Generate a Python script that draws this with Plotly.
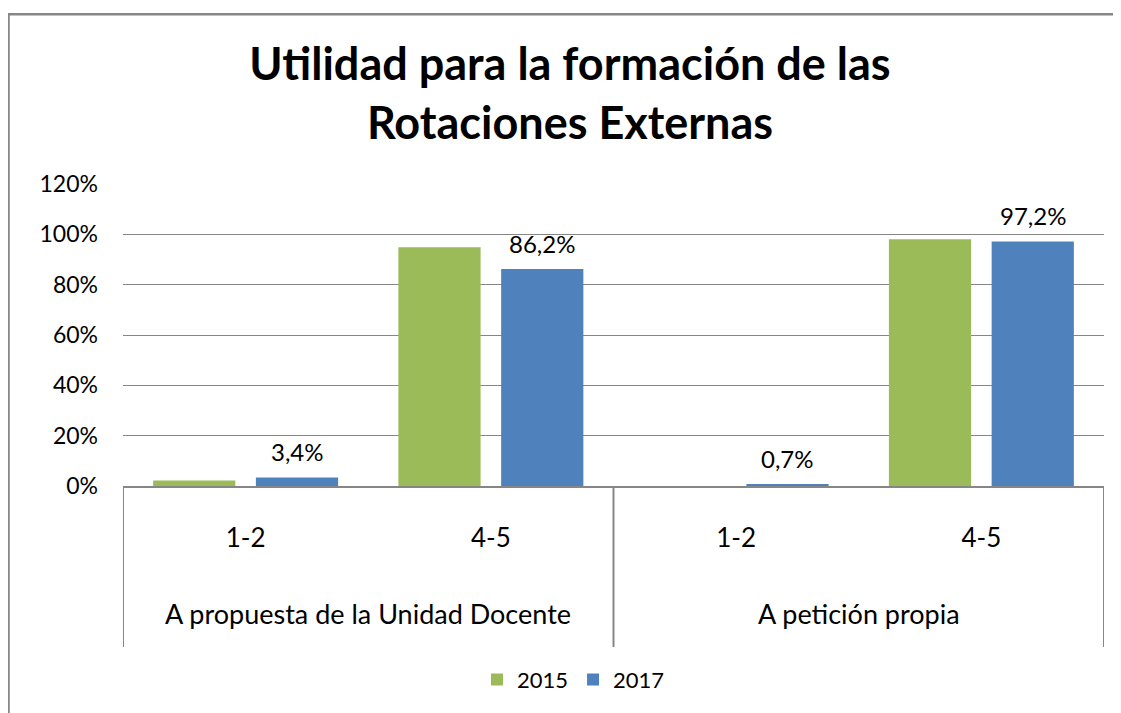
import plotly.graph_objects as go

# ---- data ----
groups = ["A propuesta de la Unidad Docente", "A propuesta de la Unidad Docente",
          "A petición propia", "A petición propia"]
subcats = ["1-2", "4-5", "1-2", "4-5"]
series_names = ["2015", "2017"]
values_2015 = [2.2, 94.9, 0.0, 98.0]
values_2017 = [3.4, 86.2, 0.7, 97.2]
y_ticks = [0, 20, 40, 60, 80, 100, 120]

# ---- style ----
OFF = 8  # page body margin of the browser
W, H = 1121 - OFF, 713 - OFF
ML, MT = 123 - OFF, 184 - OFF
PLOT_R, PLOT_B = 1104 - OFF, 488 - OFF
MR, MB = W - PLOT_R, H - PLOT_B
PW, PH = W - ML - MR, H - MT - MB
GREEN = "#9BBB59"
BLUE = "#4F81BD"
GRAY = "#868686"
FONT = "Lato"
BARGAP = 0.162
BARGROUPGAP = 0.2

def px_x(px):  # px given in screen (reference) coordinates
    return (px - OFF - ML) / PW

def px_y(py):
    return (PLOT_B - (py - OFF)) / PH

xpos = list(range(len(subcats)))

fig = go.Figure()
fig.add_trace(go.Bar(x=xpos, y=values_2015, name=series_names[0],
                     marker=dict(color=GREEN, line=dict(width=0))))
fig.add_trace(go.Bar(x=xpos, y=values_2017, name=series_names[1],
                     marker=dict(color=BLUE, line=dict(width=0))))

# data labels for 2017 series
slot = (1 - BARGAP) / 2
for i, v in enumerate(values_2017):
    fig.add_annotation(x=xpos[i] + slot / 2, y=v, xref="x", yref="y",
                       text=f"{v:.1f}".replace(".", ",") + "%",
                       showarrow=False, yanchor="middle", yshift=26,
                       font=dict(family=FONT, size=24, color="#000000"))

# group labels and dividers
uniq = []
for g in groups:
    if g not in uniq:
        uniq.append(g)
bounds = [-0.5]
for g in uniq:
    idx = [i for i, gg in enumerate(groups) if gg == g]
    fig.add_annotation(x=sum(idx) / len(idx), y=px_y(616), xref="x", yref="paper",
                       text=g, showarrow=False, yanchor="middle",
                       font=dict(family=FONT, size=27, color="#000000"))
    bounds.append(max(idx) + 0.5)
for b in bounds:
    fig.add_shape(type="line", xref="x", yref="paper", x0=b, x1=b,
                  y0=0, y1=px_y(650), line=dict(color=GRAY, width=2))

# outer border
fig.add_shape(type="rect", xref="paper", yref="paper",
              x0=px_x(8.5), x1=px_x(1140), y0=px_y(13), y1=px_y(740),
              line=dict(color=GRAY, width=2.5), fillcolor="rgba(0,0,0,0)", layer="below")

fig.update_layout(
    width=W, height=H,
    margin=dict(l=ML, r=MR, t=MT, b=MB),
    paper_bgcolor="white", plot_bgcolor="white",
    barmode="group", bargap=BARGAP, bargroupgap=BARGROUPGAP,
    title=dict(text="<b>Utilidad para la formación de las<br>Rotaciones Externas</b>",
               x=(570 - OFF) / W, xanchor="center", xref="container",
               y=1 - 72 / H, yanchor="middle", yref="container",
               font=dict(family=FONT, size=45, color="#000000")),
    font=dict(family=FONT, color="#000000"),
    showlegend=True,
    legend=dict(orientation="h", x=0.5 - 40 / PW, xanchor="center", y=px_y(683), yanchor="middle",
                font=dict(family=FONT, size=22, color="#000000"),
                itemwidth=30, traceorder="normal"),
    xaxis=dict(range=[-0.5, len(subcats) - 0.5], tickmode="array", tickvals=xpos,
               ticktext=subcats, showgrid=False, zeroline=False,
               showline=True, linecolor=GRAY, linewidth=2,
               ticks="", ticklabelstandoff=28,
               tickfont=dict(family=FONT, size=26, color="#000000")),
    yaxis=dict(range=[0, 120], tickmode="array", tickvals=y_ticks,
               ticktext=[f"{t}%" for t in y_ticks],
               showgrid=True, gridcolor=GRAY, gridwidth=1.3, zeroline=False,
               showline=False, ticks="", ticklabelstandoff=24,
               tickfont=dict(family=FONT, size=23, color="#000000")),
)

fig.write_html("out.html")
